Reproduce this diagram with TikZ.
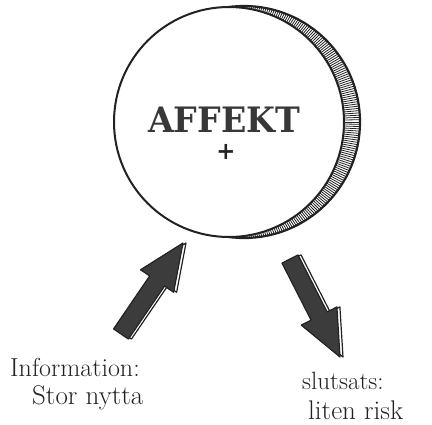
\documentclass[tikz,border=0pt]{standalone}
\usepackage{fontspec}
\newfontfamily\slabfont[FakeStretch=0.95]{DejaVu Serif}
\usetikzlibrary{calc}
\definecolor{arrowgray}{HTML}{3C3C3C}
\definecolor{inkblack}{HTML}{222222}

\begin{document}
\begin{tikzpicture}[
    x=1pt, y=-1pt,
    coin/.style={circle, draw=inkblack, line width=2pt, fill=white, minimum size=230pt, inner sep=0pt},
    coinback/.style={circle, draw=inkblack, line width=2.2pt, minimum size=232pt, inner sep=0pt},
    hatch/.style={draw=inkblack, line width=0.8pt},
    title/.style={font=\slabfont\bfseries\fontsize{35}{40}\selectfont, text=inkblack!90, inner sep=0pt},
    label/.style={text=inkblack, inner sep=0pt, anchor=base west},
    blockarrow/.style={draw=inkblack, line width=1.2pt, line join=round},
]
\useasboundingbox (0,0) rectangle (432,424);

% Coin with hatched rim
\node[coinback] (rim) at (244,122) {};
\begin{scope}
    \clip (rim.center) circle (116pt);
    \foreach \a in {-90,-89,...,90}
        \draw[hatch] (229,122) -- ++(\a:170pt);
\end{scope}
\node[coin] (affekt) at (229,122) {};
\node[title] (name) at (224,120) {AFFEKT};
\node[font=\slabfont\bfseries\fontsize{24}{24}\selectfont, text=inkblack, inner sep=0pt] (plus) at (226,152) {+};

% Arrow ends
\coordinate (infoTail) at (121,334);
\coordinate (infoHead) at (183,243);
\coordinate (slutTail) at (290,259);
\coordinate (slutHead) at (340,357);

% Block arrows, white side first
\foreach \t/\h in {infoTail/infoHead, slutTail/slutHead}
    \foreach \s/\c in {3/white, 0/arrowgray} {
        \coordinate (t) at ($(\t)+(\s,0)$);
        \coordinate (h) at ($(\h)+(\s,0)$);
        \coordinate (b) at ($(h)!46pt!(t)$);
        \filldraw[blockarrow, fill=\c] ($(t)!9pt!90:(h)$) -- ($(b)!9pt!90:(h)$)
            -- ($(b)!20pt!90:(h)$) -- (h) -- ($(b)!20pt!-90:(h)$)
            -- ($(b)!9pt!-90:(h)$) -- ($(t)!9pt!-90:(h)$) -- cycle;
    }

% Labels
\node[label, font=\fontsize{26}{26}\selectfont] (info) at (10,376) {Information:};
\node[label, font=\fontsize{27}{27}\selectfont] (infoValue) at (32,404) {Stor nytta};
\node[label, font=\fontsize{25}{25}\selectfont] (slut) at (302,389) {slutsats:};
\node[label, font=\fontsize{27}{27}\selectfont] (slutValue) at (308,419) {liten risk};

\end{tikzpicture}
\end{document}
